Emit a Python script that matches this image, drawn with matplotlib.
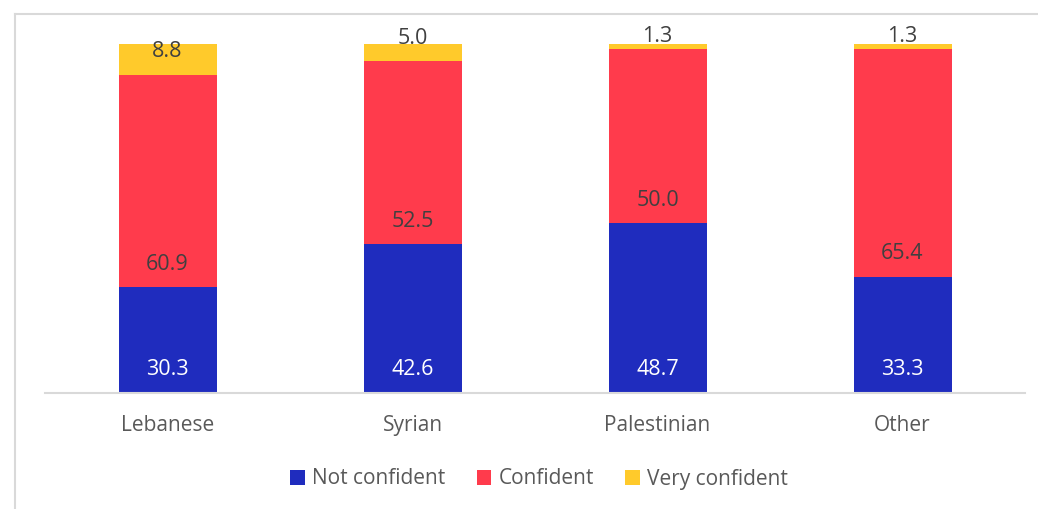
import matplotlib
matplotlib.use("Agg")
import matplotlib.pyplot as plt
from matplotlib.lines import Line2D
from matplotlib.patches import Patch
import numpy as np

categories = ["Lebanese", "Syrian", "Palestinian", "Other"]
not_confident = [30.3, 42.6, 48.7, 33.3]
confident = [60.9, 52.5, 50.0, 65.4]
very_confident = [8.8, 5.0, 1.3, 1.3]
series_names = ["Not confident", "Confident", "Very confident"]

colors = ["#1F2CBE", "#FF3B4C", "#FFCA2B"]
label_colors = ["white", "#404040", "#404040"]
font = ["Open Sans", "DejaVu Sans"]

W, H = 1038, 509
fig = plt.figure(figsize=(W / 100, H / 100), dpi=100)
fig.patch.set_facecolor("white")

ax = fig.add_axes([45 / W, (H - 393) / H, 980 / W, (393 - 44) / H])
ax.set_xlim(-0.5, 3.5)
ax.set_ylim(0, 100)

x = np.arange(len(categories))
series = [not_confident, confident, very_confident]
bottom = np.zeros(len(categories))
for vals, col, lcol in zip(series, colors, label_colors):
    vals = np.array(vals)
    ax.bar(x, vals, width=0.4, bottom=bottom, color=col, edgecolor="none", zorder=2)
    for xi, b, v in zip(x, bottom, vals):
        y = min(b + 6.6, 102.2)
        ax.text(xi, y, f"{v:.1f}", ha="center", va="center", color=lcol,
                fontsize=15.5, family=font, clip_on=False, zorder=3)
    bottom = bottom + vals

for s in ["top", "right", "left"]:
    ax.spines[s].set_visible(False)
ax.spines["bottom"].set_color("#D9D9D9")
ax.spines["bottom"].set_linewidth(1.5)
ax.set_yticks([])
ax.set_xticks(x)
ax.set_xticklabels(categories, fontsize=15, color="#595959", family=font)
ax.tick_params(axis="x", length=0, pad=16)

# outer chart frame
fig.add_artist(Line2D([15 / W, 15 / W], [0, (H - 14) / H], color="#D9D9D9", lw=1.5,
                      transform=fig.transFigure))
fig.add_artist(Line2D([15 / W, 1], [(H - 14) / H, (H - 14) / H], color="#D9D9D9", lw=1.5,
                      transform=fig.transFigure))

handles = [Patch(facecolor=c, edgecolor="none") for c in colors]
leg = fig.legend(handles, series_names, loc="center", bbox_to_anchor=(539 / W, (H - 479) / H),
                 ncol=3, frameon=False, handlelength=0.7, handleheight=0.7,
                 handletextpad=0.35, columnspacing=1.5,
                 prop={"family": font, "size": 15})
for t in leg.get_texts():
    t.set_color("#595959")

fig.savefig("out.png", dpi=100, facecolor="white")
